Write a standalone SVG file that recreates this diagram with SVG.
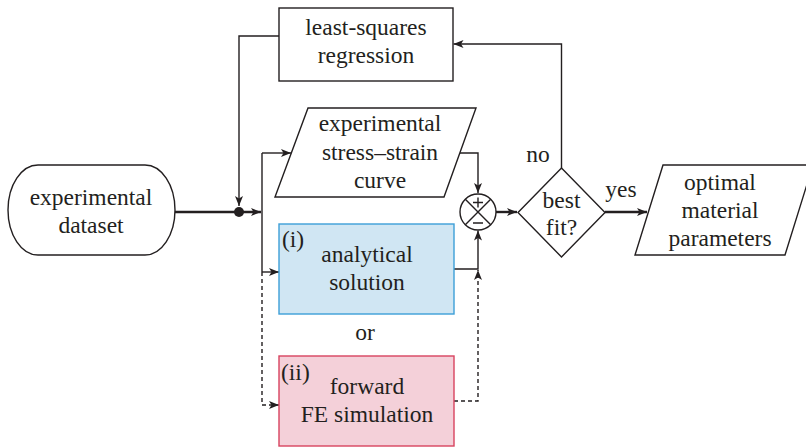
<svg xmlns="http://www.w3.org/2000/svg" width="806" height="447" viewBox="0 0 806 447">
  <defs>
    <marker id="arrow" viewBox="0 0 10 8" refX="10" refY="4" markerWidth="10" markerHeight="8" markerUnits="userSpaceOnUse" orient="auto">
      <path d="M0,0 L10,4 L0,8 L2.5,4 Z" fill="#231f20"/>
    </marker>
  </defs>

  <rect width="806" height="447" fill="#ffffff"/>

  <!-- connectors -->
  <g id="connectors" fill="none" stroke="#231f20" stroke-width="1.4">
    <path stroke-width="2.4" d="M175,212 H261" marker-end="url(#arrow)"/>
    <path d="M262,153 V272"/>
    <path d="M262,153 H291" marker-end="url(#arrow)"/>
    <path d="M262,272 H279" marker-end="url(#arrow)"/>
    <path stroke-dasharray="4 3" d="M262,272 V405 H279" marker-end="url(#arrow)"/>
    <path d="M279,36 H239 V206" marker-end="url(#arrow)"/>
    <circle cx="239" cy="212" r="5" fill="#231f20" stroke="none"/>
    <path d="M460,153 H478 V193" marker-end="url(#arrow)"/>
    <path d="M454,269 H478 V230.5" marker-end="url(#arrow)"/>
    <path stroke-dasharray="4 3" d="M454,401 H478 V270" marker-end="url(#arrow)"/>
    <path stroke-width="2.4" d="M496,212 H517" marker-end="url(#arrow)"/>
    <path d="M561.5,168 V44 H453.5" marker-end="url(#arrow)"/>
    <path stroke-width="2.4" d="M605,212 H647" marker-end="url(#arrow)"/>
  </g>

  <g font-family="Liberation Serif" font-size="23.5" fill="#231f20" text-anchor="middle">
    <text x="538" y="162" font-family="Liberation Serif">no</text>
    <text x="621" y="197" font-family="Liberation Serif">yes</text>
    <text x="365" y="340" font-family="Liberation Serif">or</text>
  </g>

  <!-- experimental dataset (terminal) -->
  <g id="dataset" font-family="Liberation Serif" font-size="23.5" text-anchor="middle" fill="#231f20">
    <rect x="8" y="165" width="167" height="90" rx="30" ry="45" fill="#ffffff" stroke="#231f20" stroke-width="1.4"/>
    <text x="91" y="205" font-family="Liberation Serif">experimental</text>
    <text x="91" y="233" font-family="Liberation Serif">dataset</text>
  </g>

  <!-- least-squares regression -->
  <g id="regression" font-family="Liberation Serif" font-size="23.5" text-anchor="middle" fill="#231f20">
    <rect x="279" y="8" width="174" height="73" fill="#ffffff" stroke="#231f20" stroke-width="1.4"/>
    <text x="366" y="35" font-family="Liberation Serif">least-squares</text>
    <text x="366" y="63" font-family="Liberation Serif">regression</text>
  </g>

  <!-- experimental stress-strain curve (data) -->
  <g id="curve" font-family="Liberation Serif" font-size="23.5" text-anchor="middle" fill="#231f20">
    <polygon points="308,108 476,108 444,197 275,197" fill="#ffffff" stroke="#231f20" stroke-width="1.4"/>
    <text x="380" y="131" font-family="Liberation Serif">experimental</text>
    <text x="380" y="159.5" font-family="Liberation Serif">stress&#8211;strain</text>
    <text x="380" y="188" font-family="Liberation Serif">curve</text>
  </g>

  <!-- summing junction -->
  <g id="junction" fill="none" stroke="#231f20" stroke-width="1.4">
    <circle cx="478" cy="212" r="18" fill="#ffffff"/>
    <path d="M465.3,199.3 L490.7,224.7 M490.7,199.3 L465.3,224.7"/>
    <path d="M473,202.5 H483 M478,197.5 V207.5 M473,223 H483"/>
  </g>

  <!-- best fit? decision -->
  <g id="decision" font-family="Liberation Serif" font-size="23.5" text-anchor="middle" fill="#231f20">
    <polygon points="518,212.5 561.5,168 605,212.5 561.5,257" fill="#ffffff" stroke="#231f20" stroke-width="1.4"/>
    <text x="561.5" y="207.5" font-family="Liberation Serif">best</text>
    <text x="561.5" y="235" font-family="Liberation Serif">fit?</text>
  </g>

  <!-- optimal material parameters (data) -->
  <g id="parameters" font-family="Liberation Serif" font-size="23.5" text-anchor="middle" fill="#231f20">
    <polygon points="663,165 813,165 785,255 635,255" fill="#ffffff" stroke="#231f20" stroke-width="1.4"/>
    <text x="720" y="190" font-family="Liberation Serif">optimal</text>
    <text x="720" y="218" font-family="Liberation Serif">material</text>
    <text x="720" y="246" font-family="Liberation Serif">parameters</text>
  </g>

  <!-- (i) analytical solution -->
  <g id="analytical" font-family="Liberation Serif" font-size="23.5" text-anchor="middle" fill="#231f20">
    <rect x="279" y="224" width="175" height="90" fill="#d0e6f3" stroke="#3d9fd8" stroke-width="1.4"/>
    <text x="282" y="247" text-anchor="start" font-family="Liberation Serif">(i)</text>
    <text x="367" y="262" font-family="Liberation Serif">analytical</text>
    <text x="367" y="290" font-family="Liberation Serif">solution</text>
  </g>

  <!-- (ii) forward FE simulation -->
  <g id="simulation" font-family="Liberation Serif" font-size="23.5" text-anchor="middle" fill="#231f20">
    <rect x="279" y="356" width="175" height="90" fill="#f4d0d9" stroke="#d8435f" stroke-width="1.4"/>
    <text x="281" y="380" text-anchor="start" font-family="Liberation Serif">(ii)</text>
    <text x="367" y="394" font-family="Liberation Serif">forward</text>
    <text x="367" y="422" font-family="Liberation Serif">FE simulation</text>
  </g>
</svg>
